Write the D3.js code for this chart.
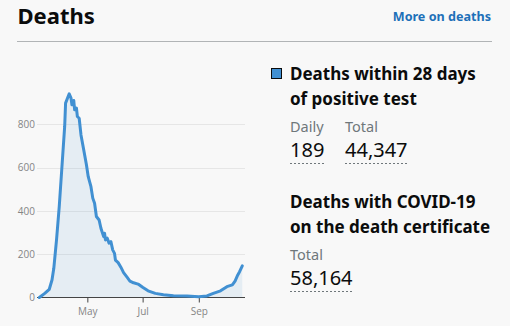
<!DOCTYPE html>
<html>
<head>
<meta charset="utf-8">
<script src="https://cdn.jsdelivr.net/npm/d3@7"></script>
<style>
  html, body { margin: 0; padding: 0; background: #f8f8f8; }
  svg { display: block; }
  .ui { font-family: "Noto Sans", "Open Sans", sans-serif; }
  .tick-label { font-family: "Open Sans", sans-serif; font-size: 10px; fill: #858585; }
</style>
</head>
<body>
<svg id="card" width="510" height="326"></svg>
<script>
// Daily deaths within 28 days of a positive test (7-day average)
const dates = [
  "2020-03-09","2020-03-15","2020-03-20","2020-03-23","2020-03-25","2020-03-28",
  "2020-03-31","2020-04-03","2020-04-06","2020-04-07","2020-04-11","2020-04-13",
  "2020-04-14","2020-04-16","2020-04-17","2020-04-19","2020-04-20","2020-04-22",
  "2020-04-24","2020-04-27","2020-04-30","2020-05-02","2020-05-05","2020-05-07",
  "2020-05-09","2020-05-11","2020-05-14","2020-05-16","2020-05-19","2020-05-20",
  "2020-05-21","2020-05-23","2020-05-25","2020-05-27","2020-05-29","2020-05-31",
  "2020-06-01","2020-06-04","2020-06-07","2020-06-10","2020-06-14","2020-06-17",
  "2020-06-21","2020-06-26","2020-07-01","2020-07-07","2020-07-15","2020-07-24",
  "2020-08-04","2020-08-19","2020-09-01","2020-09-10","2020-09-17","2020-09-25",
  "2020-10-02","2020-10-08","2020-10-11","2020-10-14","2020-10-16","2020-10-19"
];
const deaths = [
  0, 19, 38, 81, 135, 266,
  420, 605, 790, 898, 941, 921,
  890, 910, 867, 875, 836, 828,
  751, 682, 613, 558, 512, 459,
  435, 374, 358, 320, 281, 297,
  266, 274, 251, 258, 220, 204,
  173, 161, 140, 115, 93, 76,
  68, 62, 47, 31, 19, 13,
  8, 7, 4, 7, 19, 31,
  50, 58, 76, 104, 119, 146
];

const yTicks = [0, 200, 400, 600, 800];
const xTickDates = ["2020-05-01", "2020-07-01", "2020-09-01"];
const xTickLabels = ["May", "Jul", "Sep"];

// Headline figures
const cardTitle = "Deaths";
const linkText = "More on deaths";
const testedTitle = ["Deaths within 28 days", "of positive test"];
const testedLabels = ["Daily", "Total"];
const testedValues = [189, 44347];
const certTitle = ["Deaths with COVID-19", "on the death certificate"];
const certLabels = ["Total"];
const certValues = [58164];

const parse = d3.timeParse("%Y-%m-%d");
const series = dates.map((d, i) => ({ date: parse(d), value: deaths[i] }));
const fmt = d3.format(",");

const svg = d3.select("#card");
const blue = "#4190d2";

// Header
svg.append("text").attr("class", "ui")
  .attr("x", 17.5).attr("y", 24)
  .attr("font-size", 22).attr("font-weight", 700).attr("fill", "#0b0c0c")
  .text(cardTitle);
svg.append("text").attr("class", "ui")
  .attr("x", 491).attr("y", 21).attr("text-anchor", "end")
  .attr("font-size", 12.6).attr("font-weight", 700).attr("fill", "#1d70b8")
  .text(linkText);
svg.append("line")
  .attr("x1", 17).attr("x2", 492).attr("y1", 41.5).attr("y2", 41.5)
  .attr("stroke", "#b1b4b6").attr("stroke-width", 1);

// Chart
const x = d3.scaleTime()
  .domain(d3.extent(series, d => d.date))
  .range([39.3, 242.3]);
const y = d3.scaleLinear().domain([0, 800]).range([297.5, 124.3]);

const plotLeft = 37, plotRight = 245;

const grid = svg.append("g");
grid.selectAll("line").data(yTicks.filter(t => t > 0)).join("line")
  .attr("x1", plotLeft).attr("x2", plotRight)
  .attr("y1", d => Math.round(y(d)) + 0.5).attr("y2", d => Math.round(y(d)) + 0.5)
  .attr("stroke", "#e6e6e6").attr("stroke-width", 1);

svg.append("g").selectAll("text").data(yTicks).join("text")
  .attr("class", "tick-label")
  .attr("x", 35).attr("y", d => y(d) + 3.6)
  .attr("text-anchor", "end")
  .text(d => d);

const area = d3.area()
  .x(d => x(d.date)).y0(y(0)).y1(d => y(d.value));
const line = d3.line()
  .x(d => x(d.date)).y(d => y(d.value));

svg.append("path").datum(series)
  .attr("d", area)
  .attr("fill", blue).attr("fill-opacity", 0.1);

// x axis
const xAxis = d3.axisBottom(x)
  .tickValues(xTickDates.map(parse))
  .tickFormat((d, i) => xTickLabels[i])
  .tickSize(5).tickSizeOuter(0);
const gx = svg.append("g").attr("transform", `translate(0,${y(0)})`).call(xAxis);
gx.select(".domain").remove();
gx.append("line")
  .attr("x1", plotLeft).attr("x2", plotRight).attr("y1", 0).attr("y2", 0)
  .attr("stroke", "#444").attr("stroke-width", 1.2);
gx.selectAll(".tick line").attr("stroke", "#444");
gx.selectAll(".tick text")
  .attr("class", "tick-label").attr("dy", null).attr("y", 17.5)
  .attr("font-family", null).attr("font-size", null).attr("fill", null);

svg.append("path").datum(series)
  .attr("d", line)
  .attr("fill", "none").attr("stroke", blue)
  .attr("stroke-width", 3).attr("stroke-linejoin", "round").attr("stroke-linecap", "round");

// Headline figures
const panelX = 290;

function dashedUnder(x1, x2, yy) {
  svg.append("line")
    .attr("x1", x1).attr("x2", x2).attr("y1", yy).attr("y2", yy)
    .attr("stroke", "#6f777b").attr("stroke-width", 1)
    .attr("stroke-dasharray", "2,2");
}

svg.append("rect")
  .attr("x", 271.5).attr("y", 68.5).attr("width", 10).attr("height", 10)
  .attr("fill", blue).attr("stroke", "#0b0c0c").attr("stroke-width", 1);

testedTitle.forEach((t, i) => {
  svg.append("text").attr("class", "ui")
    .attr("x", panelX).attr("y", 80 + i * 24.5)
    .attr("font-size", 17).attr("font-weight", 700).attr("fill", "#0b0c0c")
    .text(t);
});

const colX = [panelX, 345];
testedLabels.forEach((t, i) => {
  svg.append("text").attr("class", "ui")
    .attr("x", colX[i]).attr("y", 131.5)
    .attr("font-size", 14.5).attr("fill", "#6f777b").text(t);
  const v = svg.append("text").attr("class", "ui")
    .attr("x", colX[i]).attr("y", 157)
    .attr("font-size", 20).attr("fill", "#0b0c0c").text(fmt(testedValues[i]));
  const w = v.node().getComputedTextLength();
  dashedUnder(colX[i], colX[i] + w, 163.5);
});

certTitle.forEach((t, i) => {
  svg.append("text").attr("class", "ui")
    .attr("x", panelX).attr("y", 208 + i * 24.5)
    .attr("font-size", 17).attr("font-weight", 700).attr("fill", "#0b0c0c")
    .text(t);
});
certLabels.forEach((t, i) => {
  svg.append("text").attr("class", "ui")
    .attr("x", colX[i]).attr("y", 259.5)
    .attr("font-size", 14.5).attr("fill", "#6f777b").text(t);
  const v = svg.append("text").attr("class", "ui")
    .attr("x", colX[i]).attr("y", 285)
    .attr("font-size", 20).attr("fill", "#0b0c0c").text(fmt(certValues[i]));
  const w = v.node().getComputedTextLength();
  dashedUnder(colX[i], colX[i] + w, 291.5);
});
</script>
</body>
</html>
